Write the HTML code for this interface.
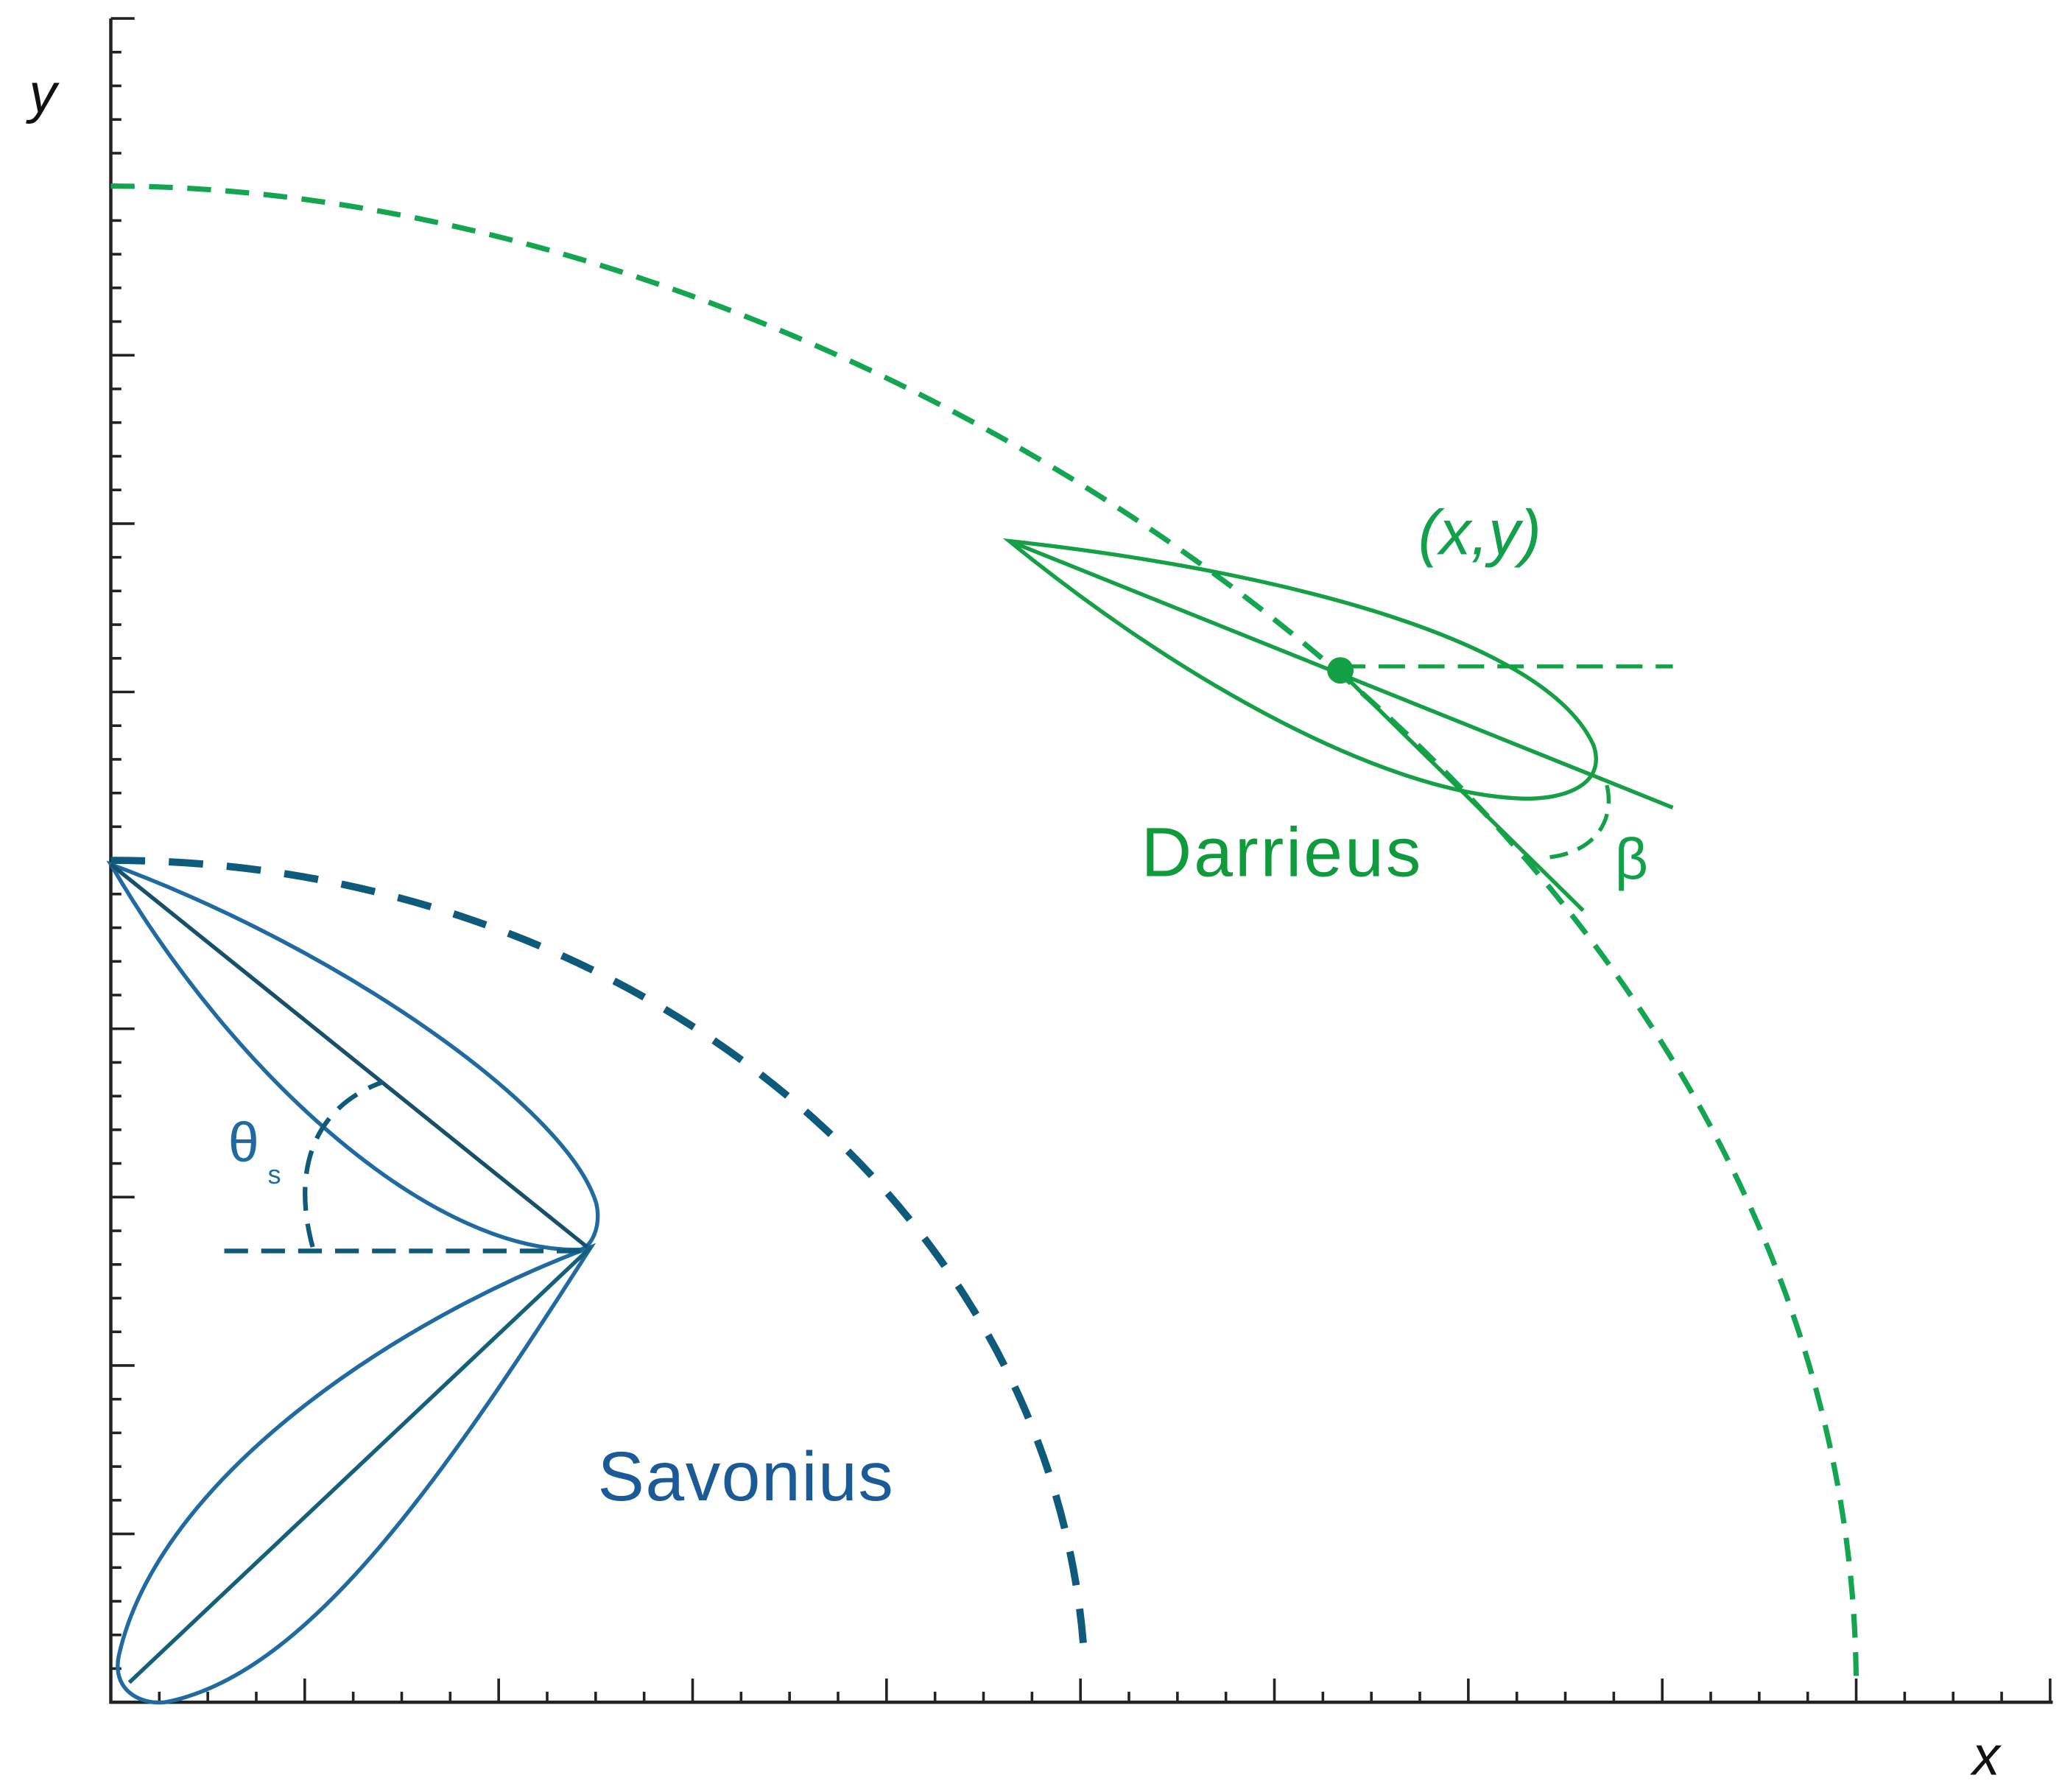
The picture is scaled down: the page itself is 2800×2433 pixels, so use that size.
<!DOCTYPE html>
<html><head><meta charset="utf-8"><style>
html,body{margin:0;padding:0;background:#fff;}
svg{display:block;}
</style></head><body>
<svg width="2800" height="2433" viewBox="0 0 1563 1358" preserveAspectRatio="none" xmlns="http://www.w3.org/2000/svg">
<g stroke="#222" stroke-width="2.5" fill="none">
<line x1="84" y1="14" x2="84" y2="1291"/>
<line x1="83" y1="1290" x2="1556" y2="1290"/>
</g>
<script>
(function(){var s='http://www.w3.org/2000/svg',svg=document.currentScript.parentNode,g=document.createElementNS(s,'g');g.setAttribute('stroke','#222');g.setAttribute('stroke-width','2');
for(var i=0;i<=50;i++){var y=1290-i*(1276/50);var L=(i%5==0)?18:8;var l=document.createElementNS(s,'line');l.setAttribute('x1',84);l.setAttribute('x2',84+L);l.setAttribute('y1',y);l.setAttribute('y2',y);g.appendChild(l);}
for(var i=0;i<=40;i++){var x=84+i*(1470/40);var L=(i%4==0)?18:8;var l=document.createElementNS(s,'line');l.setAttribute('x1',x);l.setAttribute('x2',x);l.setAttribute('y1',1290);l.setAttribute('y2',1290-L);g.appendChild(l);}
svg.appendChild(g);})();
</script>
<text x="22" y="85" font-family="Liberation Sans, sans-serif" font-style="italic" font-size="42" fill="#111">y</text>
<text x="1495" y="1345" font-family="Liberation Sans, sans-serif" font-style="italic" font-size="42" fill="#111">x</text>
<!-- green dashed circle -->
<path d="M84,141 C 650,141 1407,620 1407,1280" fill="none" stroke="#14a550" stroke-width="4" stroke-dasharray="18,11"/>
<!-- blue dashed circle -->
<path d="M84,652 A738,638 0 0 1 822,1258" fill="none" stroke="#0d5a7a" stroke-width="5.5" stroke-dasharray="26,18"/>
<!-- green airfoil -->
<g fill="none" stroke="#14a044" stroke-width="3">
<path d="M765,410 C 950,430 1170,480 1208,565 C 1218,595 1185,607 1150,605 C 1050,600 900,520 765,410 Z"/>
<line x1="765" y1="410" x2="1268" y2="612"/>
<line x1="1015" y1="508" x2="1200" y2="690"/>
<line x1="1015" y1="505" x2="1268" y2="505" stroke-dasharray="20,10"/>
<path d="M1218,595 C 1225,625 1205,648 1170,650" stroke-dasharray="14,8"/>
</g>
<circle cx="1016" cy="508" r="10" fill="#14a044"/>
<text x="865" y="664" font-family="Liberation Sans, sans-serif" font-size="53" textLength="212" fill="#0f9a3c">Darrieus</text>
<text x="1075" y="420" font-family="Liberation Sans, sans-serif" font-style="italic" font-size="48" fill="#13a04a">(x,y)</text>
<text x="1224" y="666" font-family="Liberation Sans, sans-serif" font-size="44" fill="#13a04a">β</text>
<!-- blue airfoils -->
<g fill="none" stroke="#1f6aa0" stroke-width="3">
<path d="M84,655 C 260,720 430,840 452,912 C 456,930 448,945 440,947 C 330,950 180,820 84,655 Z"/>
<path d="M448,945 C 300,1000 120,1120 90,1255 C 85,1280 105,1292 125,1290 C 230,1270 330,1130 448,945 Z"/>
<line x1="98" y1="1275" x2="448" y2="945" stroke="#14607a"/>
</g>
<line x1="84" y1="655" x2="445" y2="945" stroke="#17506a" stroke-width="3"/>
<g fill="none" stroke="#0d5a7a" stroke-width="3.5" stroke-dasharray="18,10">
<line x1="170" y1="948" x2="445" y2="948"/>
<path d="M237,945 C 222,890 235,840 290,820"/>
</g>
<text x="173" y="880" font-family="Liberation Sans, sans-serif" font-size="42" fill="#1f6aa0">θ</text>
<text x="203" y="897" font-family="Liberation Sans, sans-serif" font-size="20" fill="#1f6aa0">s</text>
<text x="453" y="1137" font-family="Liberation Sans, sans-serif" font-size="53" textLength="224" fill="#1a5a96">Savonius</text>
</svg>
</body></html>
